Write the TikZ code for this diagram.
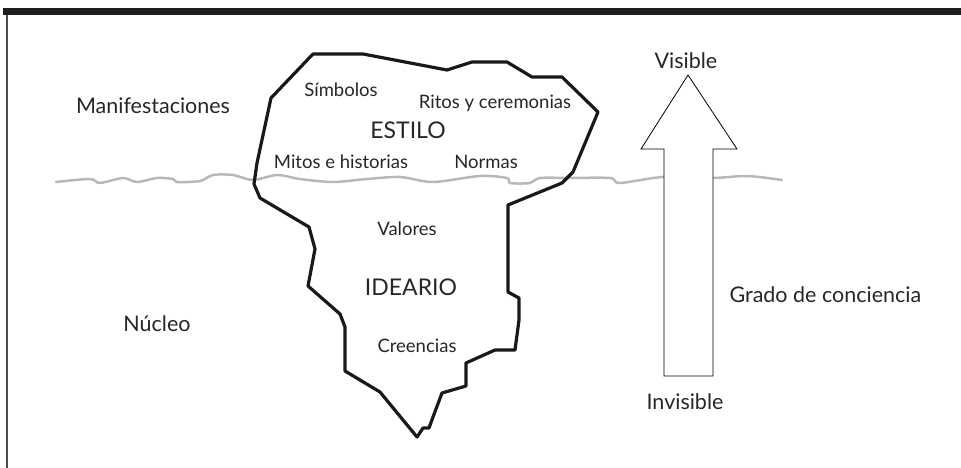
\documentclass[tikz,border=0pt]{standalone}
\usepackage{fontspec}
\setmainfont{Lato}
\begin{document}
\begin{tikzpicture}[x=1pt, y=-1pt,
    outer/.style={text=black!85, font=\fontsize{21.5}{23}\selectfont},
    inner/.style={text=black!85, font=\fontsize{18.5}{20}\selectfont},
    layer/.style={text=black!85, font=\fontsize{23}{25}\selectfont}]
    \useasboundingbox (0,0) rectangle (961,468);

    % ===== Frame =====
    \fill[black!88] (3,8) rectangle (961,15);
    \draw[black!70, line width=1.5pt] (7,15) -- (7,468);

    % ===== Water line =====
    \draw[black!28, line width=2.5pt, line cap=round, line join=round]
        plot[smooth, tension=0.5] coordinates {
            (56,182) (90,179) (100,183) (123,178) (137,182) (157,178) (173,179)
            (177,182) (200,181) (213,175) (233,175) (253,180) (277,175) (300,179)
            (333,182) (367,179) (400,177) (433,182) (480,176) (507,178) (510,183)
            (530,183) (540,178) (570,178) (610,178) (620,183) (663,177) (713,178)
            (747,176) (782,180)};

    % ===== Iceberg =====
    \draw[black!90, line width=3.2pt, line join=round]
        (313,54) -- (363,54) -- (447,70) -- (472,62) -- (507,62) -- (532,77)
        -- (562,77) -- (598,112) -- (573,172) -- (562,183) -- (508,205)
        -- (508,292) -- (519,298) -- (519,320) -- (515,350) -- (495,350)
        -- (466,363) -- (466,386) -- (442,393) -- (433,417) -- (429,428)
        -- (423,428) -- (417,437) -- (380,392) -- (345,371) -- (345,327)
        -- (340,314) -- (308,286) -- (315,249) -- (309,227) -- (260,198)
        -- (254,184) -- (257,163) -- (271,98) -- cycle;

    \node[inner] (simbolos) at (341,90) {Símbolos};
    \node[inner] (ritos) at (495,103) {Ritos y ceremonias};
    \node[layer] (estilo) at (408,130) {ESTILO};
    \node[inner] (mitos) at (341,162) {Mitos e historias};
    \node[inner] (normas) at (486,162) {Normas};
    \node[inner] (valores) at (407,229) {Valores};
    \node[layer] (ideario) at (411,287) {IDEARIO};
    \node[inner] (creencias) at (417,346) {Creencias};

    % ===== Left labels =====
    \node[outer] (manif) at (153,106) {Manifestaciones};
    \node[outer] (nucleo) at (157,324) {Núcleo};

    % ===== Arrow =====
    \draw[fill=white, line width=0.8pt]
        (664,376) -- (664,149) -- (641,149) -- (688,75) -- (737,149)
        -- (713,149) -- (713,376) -- cycle;
    \node[outer] (visible) at (686,61) {Visible};
    \node[outer] (invisible) at (685,402) {Invisible};
    \node[outer, anchor=west] (grado) at (726,295) {Grado de conciencia};
\end{tikzpicture}
\end{document}
